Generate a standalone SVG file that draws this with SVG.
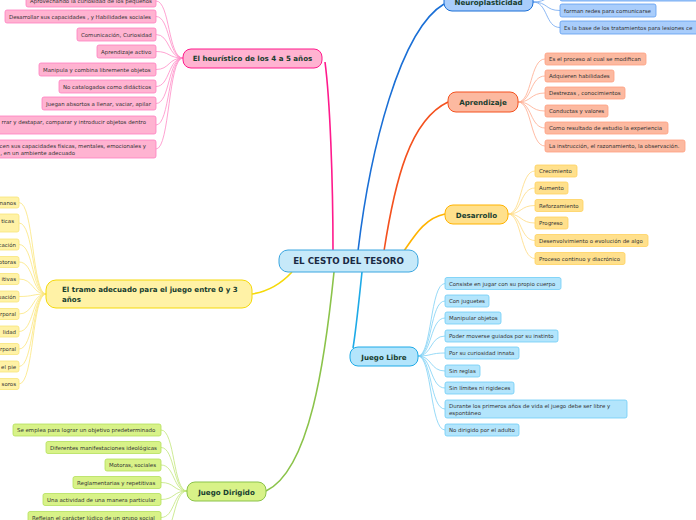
<svg xmlns="http://www.w3.org/2000/svg" width="696" height="520" viewBox="0 0 696 520">
<style>
text{font-family:"DejaVu Sans",Verdana,sans-serif}
.c{font-size:5.45px;fill:#333333}
.m{font-size:7.1px;font-weight:bold;fill:#173d2e}
.ce{font-size:8.7px;font-weight:bold;fill:#1a2a44}
.lk{fill:none;stroke-width:0.8}
.pk rect{fill:#ffb3d1;stroke:#ff7ec0;stroke-width:0.8}
.bl rect{fill:#a9cdfb;stroke:#5d9cf0;stroke-width:0.8}
.or rect{fill:#fcb9a0;stroke:#ff9f80;stroke-width:0.8}
.ye rect{fill:#ffe08c;stroke:#ffd25e;stroke-width:0.8}
.cy rect{fill:#b3e5fc;stroke:#6fcdf6;stroke-width:0.8}
.gr rect{fill:#d8f288;stroke:#b4e05a;stroke-width:0.8}
.lt rect{fill:#fff2a6;stroke:#f8e47a;stroke-width:0.8}
</style>
<rect width="696" height="520" fill="#ffffff"/>
<g id="connectors">
  <path d="M333,251 C333,180 330,100 325,62" stroke="#ff1a8c" stroke-width="1.6" fill="none"/>
  <path d="M358,251 C370,150 400,30 444,4" stroke="#1a6fd6" stroke-width="1.6" fill="none"/>
  <path d="M384,251 C395,180 410,120 448,102" stroke="#f4511e" stroke-width="1.6" fill="none"/>
  <path d="M404,251 C415,235 425,218 445,214" stroke="#ffb300" stroke-width="1.6" fill="none"/>
  <path d="M362,272 C359,300 356,330 353,348" stroke="#1eaae7" stroke-width="1.6" fill="none"/>
  <path d="M334,272 C325,360 310,470 266,491" stroke="#8bc34a" stroke-width="1.6" fill="none"/>
  <path d="M292,272 C280,285 265,292 252,294" stroke="#f5d90a" stroke-width="1.6" fill="none"/>
  <g class="lk" stroke="#ff8cc6">
    <path d="M183,58 C168,58 170,1 156,1"/>
    <path d="M183,58 C168,58 170,16.5 156,16.5"/>
    <path d="M183,58 C168,58 170,34.5 156,34.5"/>
    <path d="M183,58 C168,58 170,51.5 156,51.5"/>
    <path d="M183,58 C168,58 170,69.5 156,69.5"/>
    <path d="M183,58 C168,58 170,86.5 156,86.5"/>
    <path d="M183,58 C168,58 170,103.5 156,103.5"/>
    <path d="M183,58 C168,58 170,125 156,125"/>
    <path d="M183,58 C168,58 170,149 156,149"/>
  </g>
  <g class="lk" stroke="#6fa6f0">
    <path d="M533,2 C548,2 545,-5 560,-5"/>
    <path d="M533,2 C548,2 545,10.5 560,10.5"/>
    <path d="M533,2 C548,2 545,27.5 560,27.5"/>
  </g>
  <g class="lk" stroke="#ffab8e">
    <path d="M518,102 C532,102 530,59 545,59"/>
    <path d="M518,102 C532,102 530,76 545,76"/>
    <path d="M518,102 C532,102 530,93 545,93"/>
    <path d="M518,102 C532,102 530,111 545,111"/>
    <path d="M518,102 C532,102 530,128 545,128"/>
    <path d="M518,102 C532,102 530,146 545,146"/>
  </g>
  <g class="lk" stroke="#ffdb80">
    <path d="M508,214 C522,214 520,171 535,171"/>
    <path d="M508,214 C522,214 520,188 535,188"/>
    <path d="M508,214 C522,214 520,205.5 535,205.5"/>
    <path d="M508,214 C522,214 520,223 535,223"/>
    <path d="M508,214 C522,214 520,240.5 535,240.5"/>
    <path d="M508,214 C522,214 520,258.5 535,258.5"/>
  </g>
  <g class="lk" stroke="#7dd0f5">
    <path d="M418,356 C432,356 430,283.5 445,283.5"/>
    <path d="M418,356 C432,356 430,301 445,301"/>
    <path d="M418,356 C432,356 430,318 445,318"/>
    <path d="M418,356 C432,356 430,336 445,336"/>
    <path d="M418,356 C432,356 430,353 445,353"/>
    <path d="M418,356 C432,356 430,371 445,371"/>
    <path d="M418,356 C432,356 430,388 445,388"/>
    <path d="M418,356 C432,356 430,409 445,409"/>
    <path d="M418,356 C432,356 430,430 445,430"/>
  </g>
  <g class="lk" stroke="#c2e67a">
    <path d="M187,491 C173,491 175,430 161,430"/>
    <path d="M187,491 C173,491 175,447.5 161,447.5"/>
    <path d="M187,491 C173,491 175,465 161,465"/>
    <path d="M187,491 C173,491 175,482.5 161,482.5"/>
    <path d="M187,491 C173,491 175,499.5 161,499.5"/>
    <path d="M187,491 C173,491 175,517.5 161,517.5"/>
    <path d="M187,491 C173,491 175,535 161,535"/>
  </g>
  <g class="lk" stroke="#fbe67c">
    <path d="M46,294 C32,294 34,202.5 19,202.5"/>
    <path d="M46,294 C32,294 34,223 19,223"/>
    <path d="M46,294 C32,294 34,244.5 19,244.5"/>
    <path d="M46,294 C32,294 34,262 19,262"/>
    <path d="M46,294 C32,294 34,279 19,279"/>
    <path d="M46,294 C32,294 34,296.5 19,296.5"/>
    <path d="M46,294 C32,294 34,314 19,314"/>
    <path d="M46,294 C32,294 34,331.5 19,331.5"/>
    <path d="M46,294 C32,294 34,349 19,349"/>
    <path d="M46,294 C32,294 34,366.5 19,366.5"/>
    <path d="M46,294 C32,294 34,384 19,384"/>
  </g>
</g>

<g id="center">
  <rect x="279" y="250" width="139" height="22" rx="9" fill="#c6e9f9" stroke="#3aa6e0" stroke-width="1"/>
  <text class="ce" x="348.5" y="264.2" text-anchor="middle">EL CESTO DEL TESORO</text>
</g>

<g id="heuristico" class="pk">
  <rect x="183" y="49" width="139" height="19" rx="8" style="stroke:#ff1a8c;stroke-width:1"/>
  <text class="m" x="252.5" y="61" text-anchor="middle">El heurístico de los 4 a 5 años</text>
</g>
<g id="heuristico-children" class="pk">
  <g id="p1"><rect x="26" y="-5" width="130" height="12" rx="2"/><text class="c" x="30" y="3">Aprovechando la curiosidad de los pequeños</text></g>
  <g id="p2"><rect x="5" y="10" width="151" height="13" rx="2"/><text class="c" x="9" y="18.5">Desarrollar sus capacidades , y Habilidades sociales</text></g>
  <g id="p3"><rect x="77" y="28" width="79" height="13" rx="2"/><text class="c" x="81" y="36.5">Comunicación, Curiosidad</text></g>
  <g id="p4"><rect x="97" y="45" width="59" height="13" rx="2"/><text class="c" x="101" y="53.5">Aprendizaje activo</text></g>
  <g id="p5"><rect x="39" y="63" width="117" height="13" rx="2"/><text class="c" x="43" y="71.5">Manipula y combina libremente objetos</text></g>
  <g id="p6"><rect x="59" y="80" width="97" height="13" rx="2"/><text class="c" x="63" y="88.5">No catalogados como didácticos</text></g>
  <g id="p7"><rect x="42" y="97" width="114" height="13" rx="2"/><text class="c" x="46" y="105.5">Juegan absortos a llenar, vaciar, apilar</text></g>
  <g id="p8"><rect x="-10" y="116" width="166" height="18" rx="2"/><text class="c" x="146" y="124" text-anchor="end">rrar y destapar, comparar y introducir objetos dentro</text></g>
  <g id="p9"><rect x="-10" y="140" width="166" height="18" rx="2"/><text class="c" x="146" y="148" text-anchor="end">cen sus capacidades físicas, mentales, emocionales y</text><text class="c" x="75" y="155" text-anchor="end">, en un ambiente adecuado</text></g>
</g>

<g id="neuro" class="bl">
  <rect x="444" y="-8" width="89" height="19" rx="8" style="stroke:#1a6fd6;stroke-width:1"/>
  <text class="m" x="488.5" y="5" text-anchor="middle">Neuroplasticidad</text>
</g>
<g id="neuro-children" class="bl">
  <g id="b0"><rect x="560" y="-12" width="140" height="13" rx="2"/></g>
  <g id="b1"><rect x="560" y="4" width="96" height="13" rx="2"/><text class="c" x="564" y="12.5">forman redes para comunicarse</text></g>
  <g id="b2"><rect x="560" y="21" width="140" height="13" rx="2"/><text class="c" x="564" y="29.5">Es la base de los tratamientos para lesiones ce</text></g>
</g>

<g id="aprendizaje" class="or">
  <rect x="448" y="92" width="70" height="20" rx="8" style="stroke:#f4511e;stroke-width:1"/>
  <text class="m" x="483" y="105" text-anchor="middle">Aprendizaje</text>
</g>
<g id="aprendizaje-children" class="or">
  <g><rect x="545" y="53" width="101" height="12" rx="2"/><text class="c" x="549" y="61">Es el proceso al cual se modifican</text></g>
  <g><rect x="545" y="70" width="69" height="12" rx="2"/><text class="c" x="549" y="78">Adquieren habilidades</text></g>
  <g><rect x="545" y="87" width="80" height="12" rx="2"/><text class="c" x="549" y="95">Destrezas , conocimientos</text></g>
  <g><rect x="545" y="105" width="63" height="12" rx="2"/><text class="c" x="549" y="113">Conductas y valores</text></g>
  <g><rect x="545" y="122" width="123" height="12" rx="2"/><text class="c" x="549" y="130">Como resultado de estudio la experiencia</text></g>
  <g><rect x="545" y="140" width="140" height="12" rx="2"/><text class="c" x="549" y="148">La instrucción, el razonamiento, la observación.</text></g>
</g>

<g id="desarrollo" class="ye">
  <rect x="445" y="205" width="63" height="19" rx="8" style="stroke:#ffb300;stroke-width:1"/>
  <text class="m" x="476.5" y="217.5" text-anchor="middle">Desarrollo</text>
</g>
<g id="desarrollo-children" class="ye">
  <g><rect x="535" y="165" width="42" height="12" rx="2"/><text class="c" x="539" y="173">Crecimiento</text></g>
  <g><rect x="535" y="182" width="33" height="12" rx="2"/><text class="c" x="539" y="190">Aumento</text></g>
  <g><rect x="535" y="199.5" width="48" height="12" rx="2"/><text class="c" x="539" y="207.5">Reforzamiento</text></g>
  <g><rect x="535" y="217" width="33" height="12" rx="2"/><text class="c" x="539" y="225">Progreso</text></g>
  <g><rect x="535" y="234.5" width="113" height="12" rx="2"/><text class="c" x="539" y="242.5">Desenvolvimiento o evolución de algo</text></g>
  <g><rect x="535" y="252.5" width="90" height="12" rx="2"/><text class="c" x="539" y="260.5">Proceso continuo y diacrónico</text></g>
</g>

<g id="juegolibre" class="cy">
  <rect x="350" y="347" width="68" height="19" rx="8" style="stroke:#1eaae7;stroke-width:1"/>
  <text class="m" x="384" y="359.5" text-anchor="middle">Juego Libre</text>
</g>
<g id="juegolibre-children" class="cy">
  <g><rect x="445" y="277.5" width="116" height="12" rx="2"/><text class="c" x="449" y="285.5">Consiste en jugar con su propio cuerpo</text></g>
  <g><rect x="445" y="295" width="44" height="12" rx="2"/><text class="c" x="449" y="303">Con juguetes</text></g>
  <g><rect x="445" y="312" width="56" height="12" rx="2"/><text class="c" x="449" y="320">Manipular objetos</text></g>
  <g><rect x="445" y="330" width="113" height="12" rx="2"/><text class="c" x="449" y="338">Poder moverse guiados por su instinto</text></g>
  <g><rect x="445" y="347" width="74" height="12" rx="2"/><text class="c" x="449" y="355">Por su curiosidad innata</text></g>
  <g><rect x="445" y="365" width="35" height="12" rx="2"/><text class="c" x="449" y="373">Sin reglas</text></g>
  <g><rect x="445" y="382" width="69" height="12" rx="2"/><text class="c" x="449" y="390">Sin límites ni rigideces</text></g>
  <g><rect x="445" y="400" width="182" height="18" rx="2"/><text class="c" x="449" y="407.5">Durante los primeros años de vida el juego debe ser libre y</text><text class="c" x="449" y="414.5">espontáneo</text></g>
  <g><rect x="445" y="424" width="74" height="12" rx="2"/><text class="c" x="449" y="432">No dirigido por el adulto</text></g>
</g>

<g id="juegodirigido" class="gr">
  <rect x="187" y="482" width="79" height="19" rx="8" style="stroke:#8bc34a;stroke-width:1"/>
  <text class="m" x="226.5" y="494.5" text-anchor="middle">Juego Dirigido</text>
</g>
<g id="juegodirigido-children" class="gr">
  <g><rect x="13" y="424" width="148" height="12" rx="2"/><text class="c" x="17" y="432">Se emplea para lograr un objetivo predeterminado</text></g>
  <g><rect x="46" y="441.5" width="115" height="12" rx="2"/><text class="c" x="50" y="449.5">Diferentes manifestaciones ideológicas</text></g>
  <g><rect x="105" y="459" width="56" height="12" rx="2"/><text class="c" x="109" y="467">Motoras, sociales</text></g>
  <g><rect x="73" y="476.5" width="88" height="12" rx="2"/><text class="c" x="77" y="484.5">Reglamentarias y repetitivas</text></g>
  <g><rect x="43" y="493.5" width="118" height="12" rx="2"/><text class="c" x="47" y="501.5">Una actividad de una manera particular</text></g>
  <g><rect x="28" y="511.5" width="133" height="12" rx="2"/><text class="c" x="32" y="519.5">Reflejan el carácter lúdico de un grupo social</text></g>
</g>

<g id="tramo" class="lt">
  <rect x="46" y="280" width="206" height="28" rx="10" style="stroke:#f5d90a;stroke-width:1"/>
  <text class="m" x="62" y="292">El tramo adecuado para el juego entre 0 y 3</text>
  <text class="m" x="62" y="301.5">años</text>
</g>
<g id="tramo-children" class="lt">
  <g><rect x="-10" y="197" width="29" height="11" rx="2"/><text class="c" x="16" y="204.5" text-anchor="end">manos</text></g>
  <g><rect x="-10" y="214" width="29" height="18" rx="2"/><text class="c" x="14" y="222.5" text-anchor="end">ticas</text></g>
  <g><rect x="-10" y="239" width="29" height="11" rx="2"/><text class="c" x="16" y="246.5" text-anchor="end">cación</text></g>
  <g><rect x="-10" y="256.5" width="29" height="11" rx="2"/><text class="c" x="16" y="264" text-anchor="end">otoras</text></g>
  <g><rect x="-10" y="273.5" width="29" height="11" rx="2"/><text class="c" x="16" y="281" text-anchor="end">itivas</text></g>
  <g><rect x="-10" y="291" width="29" height="11" rx="2"/><text class="c" x="16" y="298.5" text-anchor="end">uación</text></g>
  <g><rect x="-10" y="308.5" width="29" height="11" rx="2"/><text class="c" x="16" y="316" text-anchor="end">rporal</text></g>
  <g><rect x="-10" y="326" width="29" height="11" rx="2"/><text class="c" x="16" y="333.5" text-anchor="end">lidad</text></g>
  <g><rect x="-10" y="343.5" width="29" height="11" rx="2"/><text class="c" x="16" y="351" text-anchor="end">rporal</text></g>
  <g><rect x="-10" y="361" width="29" height="11" rx="2"/><text class="c" x="16" y="368.5" text-anchor="end">el pie</text></g>
  <g><rect x="-10" y="378.5" width="29" height="11" rx="2"/><text class="c" x="16" y="386" text-anchor="end">soros</text></g>
</g>
</svg>
